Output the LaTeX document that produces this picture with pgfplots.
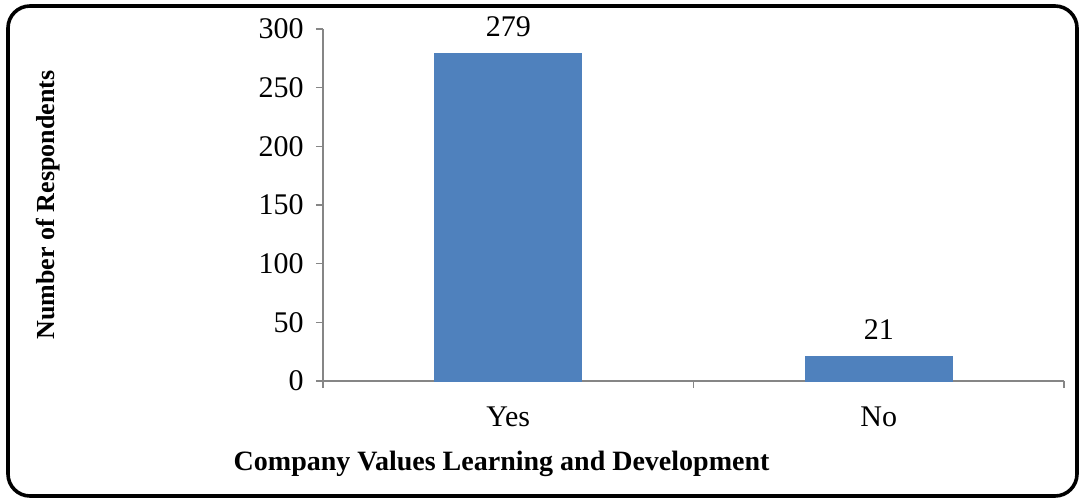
\documentclass[border=0pt]{standalone}
\usepackage{pgfplots}
\pgfplotsset{compat=1.18}
\usepackage{fontspec}
\setmainfont{Liberation Serif}
\definecolor{barblue}{HTML}{4F81BD}
\definecolor{axgray}{HTML}{868686}
\begin{document}
\fontsize{15}{18}\selectfont
\begin{tikzpicture}
\path[use as bounding box] (0,0) rectangle (540.5pt,249.5pt);
\draw[line width=1.8pt, rounded corners=11pt] (4pt,1.5pt) rectangle (538.5pt,246.5pt);
\begin{axis}[
  at={(161.5pt,59pt)}, anchor=south west,
  scale only axis, width=370.5pt, height=176pt,
  xmin=0, xmax=2, ymin=0, ymax=300,
  axis x line*=bottom, axis y line*=left,
  axis line style={draw=axgray, line width=0.7pt},
  tick style={draw=axgray, line width=0.7pt},
  tick align=outside, major tick length=3.5pt,
  ytick={0,50,100,150,200,250,300},
  yticklabel style={xshift=-1pt},
  xtick={0,1,2}, x tick label as interval, xticklabels={Yes,No},
  xticklabel style={yshift=-4pt},
  /pgf/number format/assume math mode=true,
  ybar, bar width=73.5pt,
  nodes near coords,
  nodes near coords style={black, yshift=3pt},
  xlabel={\fontsize{14}{16}\selectfont\textbf{Company Values Learning and Development}},
  xlabel style={at={(rel axis cs:0.241,-0.236)}, anchor=center},
  ylabel={\fontsize{13}{16}\selectfont\textbf{Number of Respondents}},
  ylabel style={at={(rel axis cs:-0.371,0.5)}, anchor=center},
]
\addplot[fill=barblue, draw=barblue] coordinates {(0.5,279) (1.5,21)};
\end{axis}
\end{tikzpicture}
\end{document}
